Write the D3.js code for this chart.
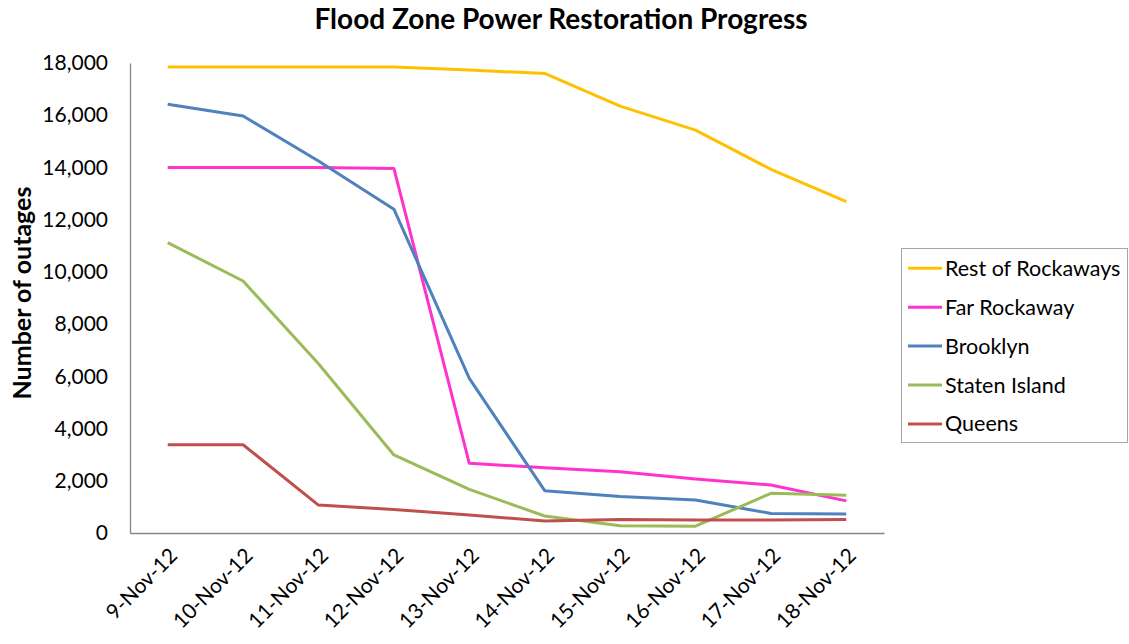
<!DOCTYPE html>
<html><head><meta charset="utf-8">
<script src="https://cdn.jsdelivr.net/npm/d3@7"></script>
<style>body{margin:0;background:#fff}svg{display:block}text{font-family:Lato,"Open Sans",sans-serif;fill:#000}</style>
</head><body><svg id="c" width="1129" height="644"></svg>
<script>
const categories = ["9-Nov-12","10-Nov-12","11-Nov-12","12-Nov-12","13-Nov-12","14-Nov-12","15-Nov-12","16-Nov-12","17-Nov-12","18-Nov-12"];
const seriesNames = ["Rest of Rockaways","Far Rockaway","Brooklyn","Staten Island","Queens"];
const restOfRockaways = [17850,17850,17850,17850,17730,17600,16350,15430,13930,12690];
const farRockaway = [14000,14000,14000,13960,2670,2500,2350,2070,1840,1230];
const brooklyn = [16420,15970,14250,12400,5920,1620,1400,1260,750,730];
const statenIsland = [11120,9650,6480,2990,1670,650,280,260,1520,1450];
const queens = [3380,3380,1070,900,690,460,520,500,500,520];
const yTicks = [0,2000,4000,6000,8000,10000,12000,14000,16000,18000];
const colors = ["#FFC000","#FF33CC","#4F81BD","#9BBB59","#C0504D"];
const values = [restOfRockaways, farRockaway, brooklyn, statenIsland, queens];

const svg = d3.select("#c");
const x = d3.scaleBand().domain(categories).range([130, 884]);
const y = d3.scaleLinear().domain([0, 18000]).range([533, 63]);

svg.append("text").attr("x", 561).attr("y", 29).attr("text-anchor","middle")
  .style("font-size","28px").style("font-weight","bold").text("Flood Zone Power Restoration Progress");

const ya = svg.append("g").attr("transform","translate(130,0)")
  .call(d3.axisLeft(y).tickValues(yTicks).tickSize(0).tickPadding(22).tickFormat(d3.format(",")));
ya.select(".domain").attr("stroke","#868686").attr("stroke-width",1.3);
ya.selectAll("text").style("font-size","21px").style("font-family","Lato,'Open Sans',sans-serif");

const xa = svg.append("g").attr("transform","translate(0,533)")
  .call(d3.axisBottom(x).tickSize(0).tickPadding(0));
xa.select(".domain").attr("stroke","#868686").attr("stroke-width",1.3);
xa.selectAll("text").style("font-size","21px").style("font-family","Lato,'Open Sans',sans-serif")
  .attr("text-anchor","end").attr("dy",null).attr("y",null)
  .attr("transform","translate(11,24) rotate(-45)");

svg.append("text").attr("transform","translate(31,293) rotate(-90)").attr("text-anchor","middle")
  .style("font-size","25px").style("font-weight","bold").text("Number of outages");

const line = d3.line().x((d,i)=>x(categories[i]) + x.bandwidth()/2).y(d=>y(d));
values.forEach((v,i)=>{
  svg.append("path").datum(v).attr("d", line).attr("fill","none")
    .attr("stroke", colors[i]).attr("stroke-width", 3).attr("stroke-linejoin","round");
});

const lg = svg.append("g");
lg.append("rect").attr("x",901.5).attr("y",248.5).attr("width",226).attr("height",194)
  .attr("fill","#fff").attr("stroke","#A6A6A6").attr("stroke-width",1);
seriesNames.forEach((n,i)=>{
  const yy = 268.3 + i*38.9;
  lg.append("line").attr("x1",908).attr("x2",942).attr("y1",yy).attr("y2",yy)
    .attr("stroke",colors[i]).attr("stroke-width",3);
  lg.append("text").attr("x",945).attr("y",yy).attr("dy","0.35em").style("font-size","21.5px").text(n);
});
</script></body></html>
